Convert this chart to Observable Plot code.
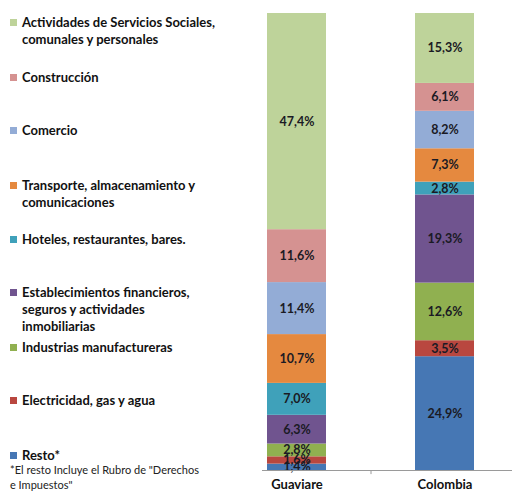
<!DOCTYPE html>
<html>
<head>
<meta charset="utf-8">
<script src="https://cdn.jsdelivr.net/npm/d3@7"></script>
<script src="https://cdn.jsdelivr.net/npm/@observablehq/plot@0.6"></script>
<style>
  html, body { margin: 0; padding: 0; background: #fff; }
  #wrap { position: relative; width: 512px; height: 492px; font-family: Lato, "Open Sans", sans-serif; }
  #chart { position: absolute; left: 0; top: 0; }
  .leg { position: absolute; left: 10px; font-weight: 700; font-size: 13px; line-height: 17px; color: #111; white-space: pre; }
  .leg .sw { position: absolute; left: 0; top: 5px; width: 7px; height: 7px; }
  .leg .tx { position: absolute; left: 12px; top: 0; }
  .leg.single { line-height: 13px; }
  .leg.single .sw { top: 3px; }
  .note { position: absolute; left: 10px; top: 462px; font-size: 11px; line-height: 15px; color: #222; white-space: pre; }
</style>
</head>
<body>
<div id="wrap"><div id="chart"></div></div>
<script>
// Categories, bottom of stack to top
const sectors = [
  "Resto*",
  "Electricidad, gas y agua",
  "Industrias manufactureras",
  "Establecimientos financieros, seguros y actividades inmobiliarias",
  "Hoteles, restaurantes, bares.",
  "Transporte, almacenamiento y comunicaciones",
  "Comercio",
  "Construcción",
  "Actividades de Servicios Sociales, comunales y personales"
];
const legendLines = [
  "Resto*",
  "Electricidad, gas y agua",
  "Industrias manufactureras",
  "Establecimientos financieros,\nseguros y actividades\ninmobiliarias",
  "Hoteles, restaurantes, bares.",
  "Transporte, almacenamiento y\ncomunicaciones",
  "Comercio",
  "Construcción",
  "Actividades de Servicios Sociales,\ncomunales y personales"
];
const colors = ["#4677b4", "#b9473f", "#90b050", "#70548f", "#3fa1ba", "#e5893f", "#93acd6", "#d59291", "#bed39a"];
const regions = ["Guaviare", "Colombia"];
const guaviare = [1.4, 1.6, 2.8, 6.3, 7.0, 10.7, 11.4, 11.6, 47.4];
const colombia = [24.9, 3.5, 12.6, 19.3, 2.8, 7.3, 8.2, 6.1, 15.3];
const footnote = "*El resto Incluye el Rubro de \"Derechos\ne Impuestos\"";

const data = [];
regions.forEach((r, ri) => {
  const vals = ri === 0 ? guaviare : colombia;
  sectors.forEach((s, i) => data.push({region: r, sector: s, value: vals[i]}));
});
const fmt = v => v.toFixed(1).replace(".", ",") + "%";

const plot = Plot.plot({
  width: 512,
  height: 492,
  marginTop: 13,
  marginBottom: 22,
  marginLeft: 262,
  marginRight: 0,
  x: {domain: regions, range: [222.5, 518.5], paddingInner: 0.6, paddingOuter: 0.3, label: null, tickSize: 0, tickPadding: 9},
  y: {domain: [0, 1], axis: null},
  color: {domain: sectors, range: colors},
  style: {fontFamily: "Lato, 'Open Sans', sans-serif", fontSize: "13px", fontWeight: "700", color: "#111"},
  marks: [
    Plot.barY(data, {x: "region", y: "value", z: "sector", fill: "sector", offset: "normalize", order: null}),
    Plot.text(data, Plot.stackY({x: "region", y: "value", z: "sector", offset: "normalize", order: null, text: d => fmt(d.value), fill: "#1a1a24", fontSize: 12.5, fontWeight: 700})),
    Plot.ruleY([0], {stroke: "#9a9a9a"}),
    Plot.ruleX(["Guaviare"], {y1: 0, y2: -0.009, dx: 74, stroke: "#9a9a9a"})
  ]
});
document.getElementById("chart").appendChild(plot);

const wrap = document.getElementById("wrap");
const legTops = [447, 392, 339, 284, 231, 177, 122, 69, 14];
sectors.forEach((s, i) => {
  const d = document.createElement("div");
  d.className = "leg" + (legendLines[i].includes("\n") ? "" : " single");
  d.style.top = (legTops[i] + (legendLines[i].includes("\n") ? 0 : 2)) + "px";
  d.innerHTML = `<div class="sw" style="background:${colors[i]}"></div><div class="tx"></div>`;
  d.querySelector(".tx").textContent = legendLines[i];
  wrap.appendChild(d);
});
const n = document.createElement("div");
n.className = "note";
n.textContent = footnote;
wrap.appendChild(n);
</script>
</body>
</html>
